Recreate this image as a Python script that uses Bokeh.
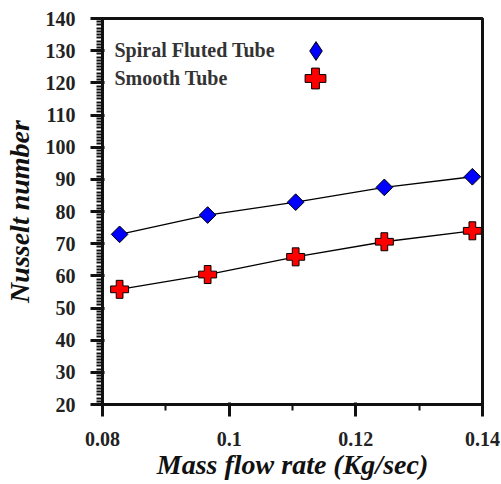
import math
from bokeh.plotting import figure
from bokeh.models import FixedTicker, CustomJSTickFormatter, Label, Legend, LegendItem, Range1d
from bokeh.embed import file_html
from bokeh.resources import INLINE

mass_flow = [0.0827, 0.0966, 0.1105, 0.1245, 0.1384]
nu_spiral = [72.9, 78.9, 82.9, 87.5, 90.8]
nu_smooth = [55.8, 60.4, 65.9, 70.6, 74.0]
x_ticks = [0.08, 0.1, 0.12, 0.14]
x_minor = [0.09, 0.11, 0.13]
y_ticks = list(range(20, 141, 10))
y_minor = [v for v in range(20, 141, 1) if v % 10 != 0]

p = figure(width=500, height=483, output_backend="svg", toolbar_location=None,
           x_range=Range1d(0.08, 0.14), y_range=Range1d(20, 140),
           min_border_left=102, min_border_right=18, min_border_top=18, min_border_bottom=79)
p.xgrid.visible = False
p.ygrid.visible = False
p.outline_line_color = "#111111"
p.outline_line_width = 3
p.background_fill_color = "white"

serif = "Liberation Serif"
for ax in (p.xaxis[0], p.yaxis[0]):
    ax.axis_line_width = 3
    ax.axis_line_color = "#111111"
    ax.major_tick_line_color = "#111111"
    ax.minor_tick_line_color = "#111111"
    ax.major_tick_line_width = 3
    ax.minor_tick_line_width = 2
    ax.major_label_text_font = serif
    ax.major_label_text_font_style = "bold"
    ax.major_label_text_font_size = "20px"
    ax.major_label_text_color = "#222222"
    ax.axis_label_text_font = serif
    ax.axis_label_text_font_style = "bold italic"
    ax.axis_label_text_font_size = "28px"
    ax.axis_label_text_color = "#111111"

p.xaxis.ticker = FixedTicker(ticks=x_ticks, minor_ticks=x_minor)
p.xaxis.formatter = CustomJSTickFormatter(code="return String(Math.round(tick*100)/100);")
p.xaxis.major_tick_out = 12
p.xaxis.minor_tick_out = 6
p.xaxis.major_label_standoff = 15
p.xaxis.axis_label = "Mass flow rate (Kg/sec)"
p.xaxis.axis_label_standoff = 0

p.yaxis.ticker = FixedTicker(ticks=y_ticks, minor_ticks=y_minor)
p.yaxis.major_tick_out = 12
p.yaxis.minor_tick_out = 6
p.yaxis.major_label_standoff = 15
p.yaxis.axis_label = "Nusselt number"
p.yaxis.axis_label_standoff = 8

p.line(mass_flow, nu_spiral, line_color="black", line_width=1.3)
p.line(mass_flow, nu_smooth, line_color="black", line_width=1.3)
r1 = p.scatter(mass_flow, nu_spiral, marker="square", angle=math.pi / 4, size=11.8,
               fill_color="#0000ff", line_color="black", line_width=1)
r2 = p.scatter(mass_flow, nu_smooth, marker="plus", size=18, fill_color="#ff0000",
               line_color="black", line_width=1)
# legend-only renderer (hidden) so the legend shows a diamond shape
r1_leg = p.scatter(mass_flow, nu_spiral, marker="diamond", size=18,
                   fill_color="#0000ff", line_color="black", line_width=1, visible=False)

for r, loc, g in ((r1_leg, (190, 330), 47), (r2, (187, 300), 52)):
    lg = Legend(items=[LegendItem(label="", renderers=[r])], location=loc,
                background_fill_alpha=0, border_line_alpha=0,
                inactive_fill_alpha=0,
                glyph_width=g, glyph_height=g, label_width=0, label_standoff=0,
                padding=0, margin=0, label_text_font_size="1px", click_policy="none")
    p.add_layout(lg)

for txt, yy in (("Spiral Fluted Tube", 355), ("Smooth Tube", 327)):
    p.add_layout(Label(x=12, y=yy, x_units="screen", y_units="screen", text=txt,
                       text_font=serif, text_font_style="bold", text_font_size="20px",
                       text_color="#333333", text_baseline="middle"))

open("out.html", "w").write(file_html(p, INLINE))
